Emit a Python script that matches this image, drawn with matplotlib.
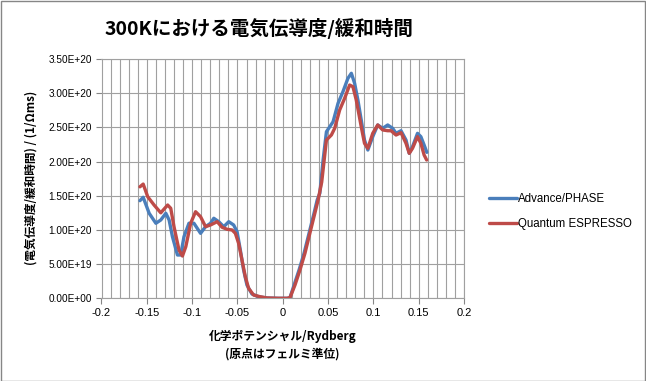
import matplotlib
matplotlib.use("Agg")
import matplotlib.pyplot as plt
from matplotlib.ticker import MultipleLocator, FuncFormatter
from matplotlib.patches import Rectangle

plt.rcParams['font.family'] = ['Noto Sans CJK JP', 'DejaVu Sans']

title = "300Kにおける電気伝導度/緩和時間"
xlabel_lines = ["化学ポテンシャル/Rydberg", "(原点はフェルミ準位)"]
ylabel = "(電気伝導度/緩和時間) / (1/Ωms)"
series_names = ["Advance/PHASE", "Quantum ESPRESSO"]

phase_x = [-0.1576, -0.154, -0.1474, -0.140, -0.1346, -0.129, -0.1254, -0.1217, -0.1162, -0.1126,
           -0.109, -0.1035, -0.098, -0.0907, -0.0852, -0.0797, -0.0761, -0.0706, -0.0651, -0.0596,
           -0.0542, -0.0504, -0.0468, -0.0432, -0.0395, -0.034, -0.0267, -0.0175, -0.005, 0.005,
           0.008, 0.0125, 0.018, 0.0235, 0.029, 0.0345, 0.038, 0.0409, 0.0445, 0.0482,
           0.0519, 0.0555, 0.061, 0.0664, 0.0719, 0.0757, 0.0793, 0.0829, 0.0866, 0.0902,
           0.0939, 0.0993, 0.1048, 0.1103, 0.1158, 0.1213, 0.125, 0.1305, 0.136, 0.1396,
           0.1432, 0.1487, 0.1524, 0.156, 0.159]
phase_y = [1.427, 1.477, 1.243, 1.097, 1.145, 1.243, 1.145, 0.90, 0.633, 0.633,
           0.90, 1.097, 1.097, 0.95, 1.047, 1.097, 1.17, 1.12, 1.047, 1.12,
           1.072, 0.974, 0.706, 0.414, 0.194, 0.063, 0.023, 0.005, 0.0, 0.0,
           0.01, 0.194, 0.414, 0.658, 0.95, 1.243, 1.437, 1.535, 2.02, 2.435,
           2.509, 2.58, 2.85, 3.02, 3.216, 3.29, 3.143, 2.90, 2.607, 2.314,
           2.168, 2.363, 2.534, 2.485, 2.534, 2.485, 2.412, 2.45, 2.314, 2.12,
           2.217, 2.412, 2.363, 2.241, 2.134]

qe_x = [-0.1576, -0.154, -0.149, -0.142, -0.1346, -0.127, -0.1236, -0.12, -0.1145, -0.1107,
        -0.107, -0.1016, -0.0962, -0.0907, -0.0852, -0.0797, -0.0724, -0.0669, -0.0614, -0.0559,
        -0.0523, -0.0487, -0.045, -0.0413, -0.0377, -0.0322, -0.0249, -0.0175, -0.005, 0.005,
        0.008, 0.0135, 0.019, 0.0245, 0.0299, 0.0354, 0.039, 0.043, 0.0482, 0.0537,
        0.0573, 0.0628, 0.0683, 0.0738, 0.0774, 0.0811, 0.0866, 0.0902, 0.0939, 0.0993,
        0.1048, 0.1103, 0.1158, 0.1195, 0.125, 0.1305, 0.136, 0.1396, 0.1432, 0.1487,
        0.1524, 0.156, 0.1588]
qe_y = [1.63, 1.67, 1.485, 1.364, 1.25, 1.364, 1.316, 1.047, 0.706, 0.618,
        0.754, 1.097, 1.266, 1.193, 1.047, 1.072, 1.12, 1.038, 1.009, 0.999,
        0.95, 0.804, 0.56, 0.316, 0.146, 0.048, 0.023, 0.005, 0.0, 0.0,
        0.01, 0.194, 0.414, 0.658, 0.95, 1.243, 1.437, 1.70, 2.314, 2.388,
        2.485, 2.753, 2.924, 3.118, 3.094, 2.90, 2.509, 2.266, 2.193, 2.412,
        2.534, 2.461, 2.45, 2.45, 2.387, 2.421, 2.266, 2.12, 2.193, 2.363,
        2.266, 2.095, 2.022]

scale = 1e20
W, H = 646, 381
fig = plt.figure(figsize=(W / 100, H / 100), dpi=100)
fig.patch.set_facecolor('white')
fig.patches.append(Rectangle((0.5 / W, 0.5 / H), 1 - 1.5 / W, 1 - 1.5 / H, transform=fig.transFigure,
                             fill=False, edgecolor='#868686', linewidth=1.0))

left, right, top, bottom = 101.5, 464.0, 58.9, 298.3
ax = fig.add_axes([left / W, 1 - bottom / H, (right - left) / W, (bottom - top) / H])

grid_c = '#a0a0a0'
ax.plot(phase_x, [v * scale for v in phase_y], color='#4A7EBB', lw=2.4, label=series_names[0],
        solid_joinstyle='round', solid_capstyle='round', zorder=3)
ax.plot(qe_x, [v * scale for v in qe_y], color='#BE4B48', lw=2.4, label=series_names[1],
        solid_joinstyle='round', solid_capstyle='round', zorder=4)

ax.set_xlim(-0.2, 0.2)
ax.set_ylim(0, 3.5e20)
ax.xaxis.set_major_locator(MultipleLocator(0.05))
ax.xaxis.set_minor_locator(MultipleLocator(0.01))
ax.yaxis.set_major_locator(MultipleLocator(0.5e20))

def xfmt(v, pos):
    if abs(v) < 1e-9:
        return "0"
    return ("%.2f" % v).rstrip('0').rstrip('.')
ax.xaxis.set_major_formatter(FuncFormatter(xfmt))
ax.yaxis.set_major_formatter(FuncFormatter(lambda v, p: "%.2E" % v))

ax.grid(True, which='minor', axis='x', color=grid_c, lw=0.8)
ax.grid(True, which='major', axis='x', color=grid_c, lw=0.8)
ax.grid(True, which='major', axis='y', color=grid_c, lw=0.8)
ax.set_axisbelow(True)
for s in ax.spines.values():
    s.set_color(grid_c)
    s.set_linewidth(0.8)
ax.tick_params(axis='both', which='major', direction='out', length=4, width=0.8, color='#868686',
               pad=3)
ax.tick_params(axis='x', which='major', labelsize=8)
ax.tick_params(axis='y', which='major', labelsize=7.2)
ax.tick_params(axis='x', which='minor', length=0)
for lab in ax.get_xticklabels() + ax.get_yticklabels():
    lab.set_family(['Liberation Sans', 'DejaVu Sans'])

fig.text(259 / W, 1 - 28 / H, title, ha='center', va='center', fontsize=14, fontweight='bold')
fig.text(31 / W, 1 - 178 / H, ylabel, ha='center', va='center', rotation=90, fontsize=8.4,
         fontweight='bold')
fig.text(282.5 / W, 1 - 336 / H, xlabel_lines[0], ha='center', va='center', fontsize=8.5,
         fontweight='bold')
fig.text(282.5 / W, 1 - 354 / H, xlabel_lines[1], ha='center', va='center', fontsize=8.5,
         fontweight='bold')

leg = fig.legend(loc='center left', bbox_to_anchor=(489 / W, 1 - 211.5 / H), frameon=False,
                 handlelength=2.4, handletextpad=0.15, labelspacing=1.1, borderpad=0,
                 borderaxespad=0, prop={'family': ['Liberation Sans', 'DejaVu Sans'], 'size': 8.3})

fig.savefig('out.png', dpi=100)
